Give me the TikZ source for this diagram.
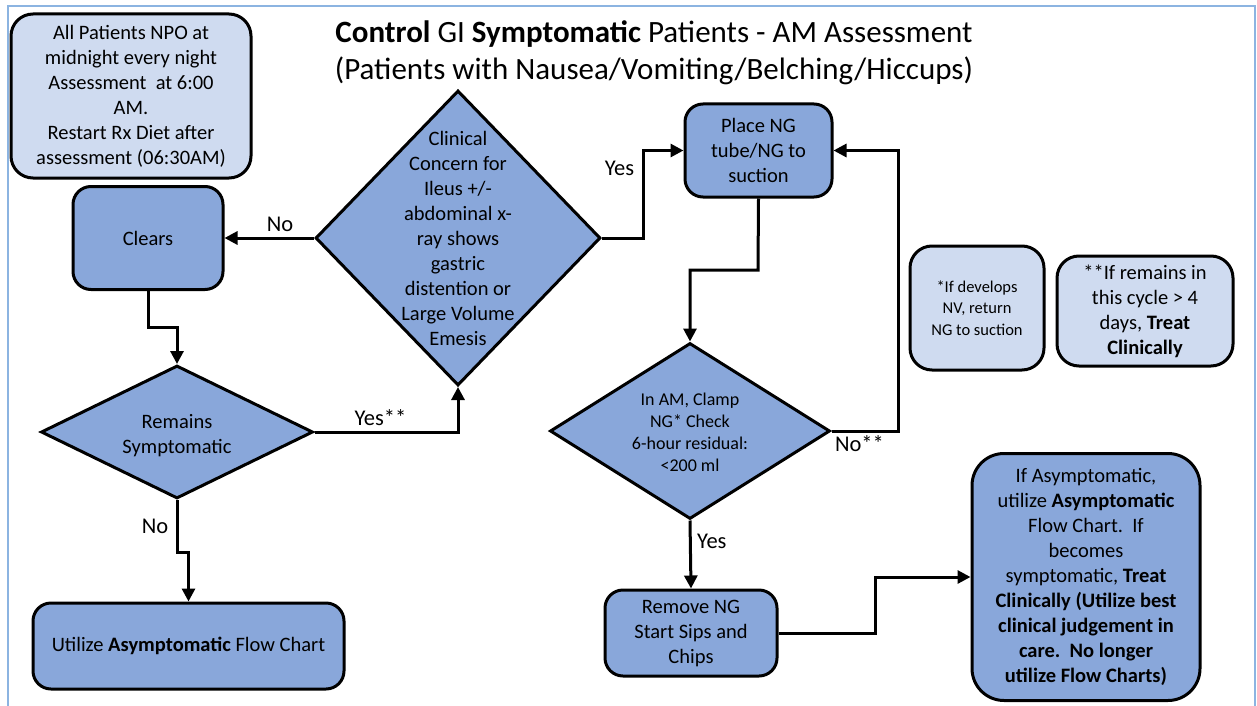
\documentclass[tikz,border=0pt]{standalone}
\usepackage{fontspec}
\setmainfont{Carlito}
\usetikzlibrary{arrows.meta,shapes.geometric}
\definecolor{darkfill}{RGB}{137,167,218}
\definecolor{lightfill}{RGB}{207,219,240}
\definecolor{framecol}{RGB}{140,180,225}
\tikzstyle{block} = [rectangle, draw, line width=3pt, fill=darkfill,
    rounded corners=18pt, align=center, inner sep=0pt]
\tikzstyle{note} = [rectangle, draw, line width=3pt, fill=lightfill,
    rounded corners=22pt, align=center, inner sep=0pt]
\tikzstyle{decision} = [diamond, draw, line width=3pt, fill=darkfill, inner sep=0pt]
\tikzstyle{dtext} = [align=center, inner sep=0pt]
\tikzstyle{line} = [line width=3pt, -{Triangle[length=13pt,width=13pt]}]
\tikzstyle{answer} = [font=\fontsize{22.5}{27}\selectfont]

\begin{document}
\begin{tikzpicture}[x=1pt,y=-1pt,
    every node/.style={font=\fontsize{20.5}{25}\selectfont}]
  \useasboundingbox (0,0) rectangle (1257,706);
  \draw[framecol, line width=1.5pt] (8,712) |- (1255,6) -- (1255,712);

  \node[dtext, font=\fontsize{31}{37}\selectfont] (title) at (654,53)
    {\textbf{Control} GI \textbf{Symptomatic} Patients - AM Assessment\\
     (Patients with Nausea/Vomiting/Belching/Hiccups)};

  \node[note, minimum width=240pt, minimum height=164pt] (npo) at (131,96)
    {All Patients NPO at\\midnight every night\\Assessment\ \ at 6:00\\AM.\\
     Restart Rx Diet after\\assessment (06:30AM)};
  \node[block, minimum width=150pt, minimum height=103pt] (clears) at (148,238) {Clears};
  \node[decision, minimum width=285pt, minimum height=295pt] (ileus) at (458,238) {};
  \node[dtext] (ileus-t) at (ileus.center)
    {Clinical\\Concern for\\Ileus +/-\\abdominal x-\\ray shows\\gastric\\
     distention or\\Large Volume\\Emesis};
  \node[decision, minimum width=272pt, minimum height=133pt] (remain) at (177,432) {};
  \node[dtext] (remain-t) at ([yshift=-4pt]remain.center) {Remains\\Symptomatic};
  \node[block, minimum width=311pt, minimum height=86pt] (util) at (188.5,646)
    {Utilize \textbf{Asymptomatic} Flow Chart};

  \node[block, minimum width=147pt, minimum height=93pt] (ng) at (758.5,150.5)
    {Place NG\\tube/NG to\\suction};
  \node[decision, minimum width=280pt, minimum height=176pt] (clamp) at (690,431) {};
  \node[dtext, font=\fontsize{18}{22}\selectfont] (clamp-t) at ([yshift=-1.5pt]clamp.center)
    {In AM, Clamp\\NG* Check\\6-hour residual:\\<200 ml};
  \node[block, minimum width=172pt, minimum height=86pt] (remove) at (691,633)
    {Remove NG\\Start Sips and\\Chips};
  \node[block, minimum width=228pt, minimum height=247pt, rounded corners=32pt] (asym) at (1086,577)
    {If Asymptomatic,\\utilize \textbf{Asymptomatic}\\Flow Chart.\ \ If\\becomes\\
     symptomatic, \textbf{Treat}\\\textbf{Clinically (Utilize best}\\
     \textbf{clinical judgement in}\\\textbf{care.\ \ No longer}\\
     \textbf{utilize Flow Charts)}};

  \node[note, minimum width=134pt, minimum height=124pt, font=\fontsize{16.5}{21.5}\selectfont]
    (star) at (977,308) {*If develops\\NV, return\\NG to suction};
  \node[note, minimum width=176pt, minimum height=110pt] (dstar) at (1145,311)
    {**If remains in\\this cycle > 4\\days, \textbf{Treat}\\\textbf{Clinically}};

  % connectors
  \draw[line] (ileus.west) -- node[answer, pos=0.38, above, yshift=2pt] (no1) {No} (clears.east);
  \draw[line] (ileus.east) -- (643,238) |- node[answer, pos=0.4, left, xshift=-4pt] (yes1) {Yes} (ng.west);
  \draw[line] (ng.south) -- (758,270) -| (clamp.north);
  \draw[line] (clamp.east) -- node[answer, pos=0.42, below, yshift=0pt] (no2) {No**} (898,431) |- (ng.east);
  \draw[line] (clamp.south) -- node[answer, pos=0.3, right, xshift=2pt] (yes2) {Yes} (remove.north);
  \draw[line] (remove.east) -- (875,633) |- (asym.west);
  \draw[line] (clears.south) -- (148,327) -| (remain.north);
  \draw[line] (remain.east) -| node[answer, pos=0.23, above, yshift=2pt] (yes3) {Yes**} (ileus.south);
  \draw[line] (remain.south) -- node[answer, pos=0.5, left, xshift=-4pt] (no3) {No} (177,552) -| (util.north);
\end{tikzpicture}
\end{document}
